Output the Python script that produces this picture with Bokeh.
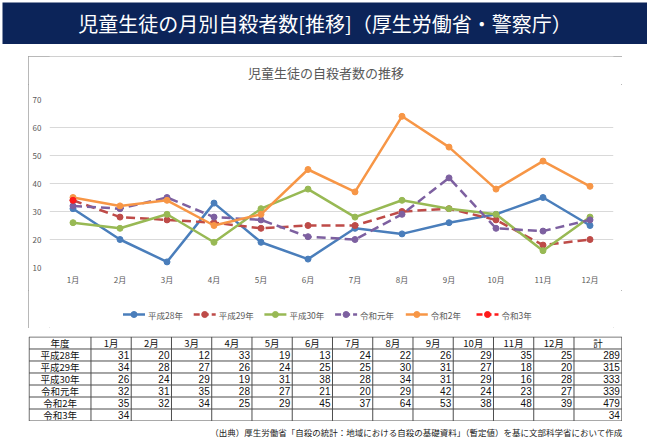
from bokeh.plotting import figure
from bokeh.models import Range1d, FactorRange, FixedTicker, ColumnDataSource
from bokeh.layouts import column
from bokeh.embed import file_html
from bokeh.resources import INLINE
from bokeh.core.properties import value

# ---------------- data ----------------
months = ["1月", "2月", "3月", "4月", "5月", "6月", "7月", "8月", "9月", "10月", "11月", "12月"]
series_names = ["平成28年", "平成29年", "平成30年", "令和元年", "令和2年", "令和3年"]
h28 = [31, 20, 12, 33, 19, 13, 24, 22, 26, 29, 35, 25]
h29 = [34, 28, 27, 26, 24, 25, 25, 30, 31, 27, 18, 20]
h30 = [26, 24, 29, 19, 31, 38, 28, 34, 31, 29, 16, 28]
r1 = [32, 31, 35, 28, 27, 21, 20, 29, 42, 24, 23, 27]
r2 = [35, 32, 34, 25, 29, 45, 37, 64, 53, 38, 48, 39]
r3 = [34]
series_values = [h28, h29, h30, r1, r2, r3]
y_ticks = [10, 20, 30, 40, 50, 60, 70]
table_header = ["年度"] + months + ["計"]
main_title = "児童生徒の月別自殺者数[推移]（厚生労働省・警察庁）"
chart_title = "児童生徒の自殺者数の推移"
source_note = "（出典）厚生労働省「自殺の統計：地域における自殺の基礎資料」（暫定値）を基に文部科学省において作成"

# ---------------- styles ----------------
colors = ["#4a7ebb", "#be4b48", "#98b954", "#7d60a0", "#f79646", "#ff1a1a"]
dashes = ["solid", "9 5", "solid", "9 5", "solid", "9 5"]
JP = "Noto Sans CJK JP"
NAVY = "#0c2459"
GREY = "#595959"
BOX_W, FR_L, FR_R = 594, 21, 9


def bare(fig):
    fig.grid.visible = False
    fig.outline_line_color = None
    return fig


# ---------------- header banner ----------------
hdr = bare(figure(width=645, height=42, x_range=Range1d(0, 1), y_range=Range1d(0, 1),
                  x_axis_location=None, y_axis_location=None, min_border=0,
                  output_backend="svg", toolbar_location=None, margin=(2, 3, 12, 2)))
hdr.background_fill_color = NAVY
hdr.border_fill_color = NAVY
hdr.text(x=[0.5], y=[0.5], text=[main_title], text_align="center", text_baseline="middle",
         text_color="white", text_font=value(JP), text_font_size="20px")

# ---------------- chart title strip (inside the chart box) ----------------
tt = bare(figure(width=BOX_W, height=28, x_range=Range1d(FR_L, BOX_W - FR_R),
                 y_range=Range1d(28, 0), x_axis_location=None, y_axis_location=None,
                 min_border=0, min_border_left=FR_L, min_border_right=FR_R,
                 output_backend="svg", toolbar_location=None, margin=0))
tt.text(x=[297.5], y=[16], text=[chart_title], text_align="center", text_baseline="middle",
        text_font=value(JP), text_font_size="13px", text_color=GREY)

# ---------------- chart ----------------
p = figure(width=BOX_W, height=206, x_range=FactorRange(*months), y_range=Range1d(10, 70),
           min_border_left=FR_L, min_border_right=FR_R, min_border_top=15,
           min_border_bottom=23, output_backend="svg", toolbar_location=None, margin=0)
p.outline_line_color = None
p.xgrid.grid_line_color = None
p.ygrid.grid_line_color = "#d9d9d9"
p.ygrid.grid_line_width = 1
p.yaxis.ticker = FixedTicker(ticks=y_ticks)
for ax in (p.xaxis[0], p.yaxis[0]):
    ax.axis_line_color = None
    ax.major_tick_line_color = None
    ax.minor_tick_line_color = None
    ax.major_tick_out = 0
    ax.major_tick_in = 0
    ax.major_label_text_font = JP
    ax.major_label_text_font_size = "8px"
    ax.major_label_text_color = GREY
p.yaxis.major_label_standoff = 8
p.xaxis.major_label_standoff = 6

for name, vals, c, d in zip(series_names, series_values, colors, dashes):
    src = ColumnDataSource(dict(x=months[:len(vals)], y=vals))
    p.line("x", "y", source=src, line_color=c, line_width=2.5, line_dash=d,
           line_join="round")
    p.scatter("x", "y", source=src, size=6, fill_color=c, line_color=c)

# ---------------- legend strip (inside the chart box) ----------------
lg = bare(figure(width=BOX_W, height=38, x_range=Range1d(FR_L, BOX_W - FR_R),
                 y_range=Range1d(38, 0), x_axis_location=None, y_axis_location=None,
                 min_border=0, min_border_left=FR_L, min_border_right=FR_R,
                 output_backend="svg", toolbar_location=None, margin=0))
item_step, glyph_w, first_x, row_y = 70.7, 22, 94.5, 24
for i, (name, c, d) in enumerate(zip(series_names, colors, dashes)):
    x0 = first_x + i * item_step
    lg.segment(x0=[x0], y0=[row_y], x1=[x0 + glyph_w], y1=[row_y], line_color=c,
               line_width=2.5, line_dash=("6 3" if d != "solid" else "solid"))
    lg.scatter(x=[x0 + glyph_w / 2], y=[row_y], size=6, fill_color=c, line_color=c)
    lg.text(x=[x0 + glyph_w + 3], y=[row_y], text=[name], text_align="left",
            text_baseline="middle", text_font=value(JP), text_font_size="8.5px",
            text_color=GREY)

box = column(tt, p, lg, spacing=0, margin=(0, 0, 8, 28),
             styles={"outline": "1px solid #a0a0a0", "outline-offset": "-1px"})

# ---------------- table ----------------
name_w, month_w, total_w = 62, 40.33, 48
edges = [0.0, name_w] + [name_w + month_w * (k + 1) for k in range(12)]
edges.append(edges[-1] + total_w)
n_rows = len(series_names) + 1

tbl = bare(figure(width=594, height=85, x_range=Range1d(-0.6, edges[-1] + 0.6),
                  y_range=Range1d(n_rows + 0.04, -0.04),
                  x_axis_location=None, y_axis_location=None, min_border=0,
                  output_backend="svg", toolbar_location=None, margin=(0, 0, 0, 28)))

tbl.segment(x0=edges, y0=[0] * len(edges), x1=edges, y1=[n_rows] * len(edges),
            line_color="#4d4d4d", line_width=1)
tbl.segment(x0=[0] * (n_rows + 1), y0=list(range(n_rows + 1)),
            x1=[edges[-1]] * (n_rows + 1), y1=list(range(n_rows + 1)),
            line_color="#4d4d4d", line_width=1)

centers = [(edges[i] + edges[i + 1]) / 2 for i in range(len(edges) - 1)]
tbl.text(x=centers, y=[0.5] * len(centers), text=table_header, text_align="center",
         text_baseline="middle", text_font=value(JP), text_font_size="9.5px",
         text_color="#111111")
tbl.text(x=[centers[0]] * len(series_names), y=[i + 1.5 for i in range(len(series_names))],
         text=series_names, text_align="center", text_baseline="middle",
         text_font=value(JP), text_font_size="9.5px", text_color="#111111")

nx, ny, nt = [], [], []
for i, vals in enumerate(series_values):
    for j, v in enumerate(vals):
        nx.append(edges[j + 2] - 2)
        ny.append(i + 1.5)
        nt.append(str(v))
    nx.append(edges[-1] - 2)
    ny.append(i + 1.5)
    nt.append(str(sum(vals)))
tbl.text(x=nx, y=ny, text=nt, text_align="right", text_baseline="middle",
         text_font=value("Liberation Sans"), text_font_size="10px", text_color="#111111")

# ---------------- footnote ----------------
fn = bare(figure(width=650, height=16, x_range=Range1d(0, 650), y_range=Range1d(16, 0),
                 x_axis_location=None, y_axis_location=None, min_border=0,
                 output_backend="svg", toolbar_location=None, margin=0))
fn.text(x=[622], y=[10.5], text=[source_note], text_align="right", text_baseline="middle",
        text_font=value(JP), text_font_size="8.5px", text_color="#222222")

layout = column(hdr, box, tbl, fn, spacing=0)

open("out.html", "w").write(file_html(layout, INLINE))
